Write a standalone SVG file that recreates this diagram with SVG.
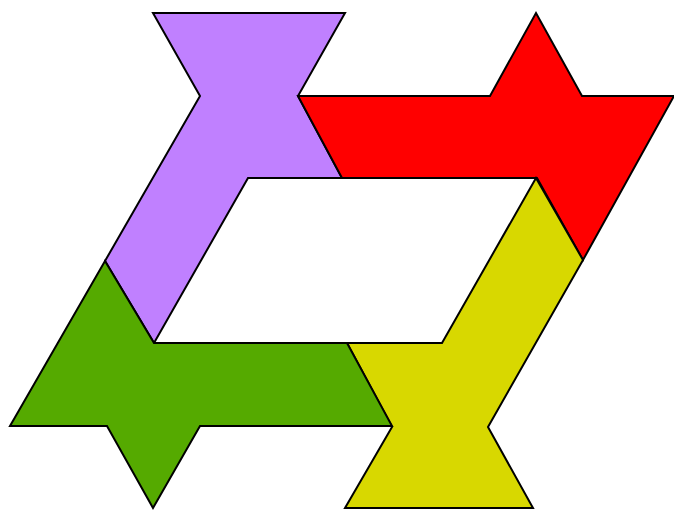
<svg xmlns="http://www.w3.org/2000/svg" width="674" height="511" viewBox="0 0 674 511">
<style>
polygon{stroke:#000;stroke-width:2;stroke-linejoin:miter}
.p{fill:#C080FF}.r{fill:#FF0000}.y{fill:#D8D800}.g{fill:#55AA00}
</style>
<rect width="674" height="511" fill="#fff"/>
<g id="purple"><polygon class="p" points="153,13 345,13 298,96 342,178 248,178 154,343 105,261 200,96"/></g>
<g id="red"><polygon class="r" points="298,96 490,96 536,13 582,96 674,96 583,260 537,178 342,178"/></g>
<g id="yellow"><polygon class="y" points="536,178 583,260 488,427 533,508 345,508 392,427 347,343 442,343"/></g>
<g id="green"><polygon class="g" points="105,261 10,426 107,426 153,508 200,426 392,426 347,343 154,343"/></g>
</svg>
